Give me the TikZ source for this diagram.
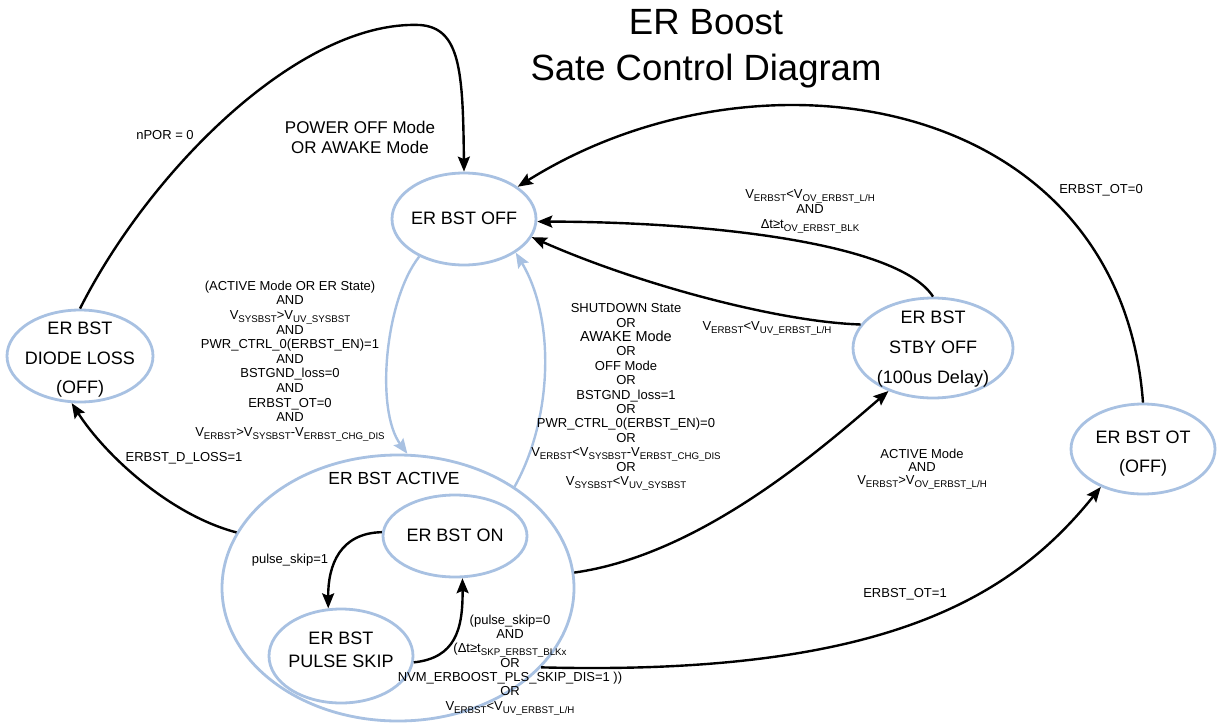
\documentclass[tikz,border=0pt]{standalone}
\usepackage{fontspec}
\setmainfont{Liberation Sans}
\usetikzlibrary{shapes.geometric,arrows.meta}
\definecolor{stateblue}{RGB}{168,193,226}
% lowered, smaller text for signal subscripts
\newcommand\dn[1]{\raisebox{-3pt}{\fontsize{9.7}{9.7}\selectfont #1}}

\begin{document}
\begin{tikzpicture}[x=1pt,y=-1pt,
  state/.style={ellipse, draw=stateblue, line width=2.8pt, inner sep=0pt},
  stxt/.style={align=center, inner sep=0pt, font=\fontsize{18}{29.5}\selectfont},
  cond/.style={align=center, inner sep=0pt, font=\fontsize{13}{14.6}\selectfont},
  tip/.style={-{Stealth[length=15pt,width=12pt,inset=2.5pt]}},
  edge/.style={tip, line width=2.4pt, draw=black},
  bedge/.style={tip, line width=2.4pt, draw=stateblue},
]
\fill[white] (0,0) rectangle (1222,725);
\useasboundingbox (0,0) rectangle (1222,725);

% title
\node[align=center, inner sep=0pt, font=\fontsize{36.5}{46}\selectfont] (title) at (706,49)
  {ER Boost\\Sate Control Diagram};

% states
\node[state, minimum width=144pt, minimum height=92pt]  (off)    at (464,219) {};
\node[state, minimum width=146pt, minimum height=92pt]  (diode)  at (80,356)  {};
\node[state, minimum width=352pt, minimum height=266pt] (active) at (398,588) {};
\node[state, minimum width=144pt, minimum height=82pt]  (on)     at (455,536) {};
\node[state, minimum width=144pt, minimum height=94pt]  (ps)     at (341,656) {};
\node[state, minimum width=160pt, minimum height=100pt] (stby)   at (933,348) {};
\node[state, minimum width=144pt, minimum height=90pt]  (ot)     at (1143,449) {};

% state names
\node[stxt] (offT) at (464,218) {ER BST OFF};
\node[stxt] (diodeT) at (80,360) {ER BST\\DIODE LOSS\\(OFF)};
\node[stxt, font=\fontsize{17.5}{20}\selectfont] (activeT) at (394,478) {ER BST ACTIVE};
\node[stxt] (onT) at (455,535) {ER BST ON};
\node[stxt, font=\fontsize{18}{22.5}\selectfont] (psT) at (341,650) {ER BST\\PULSE SKIP};
\node[stxt, font=\fontsize{18}{30}\selectfont] (stbyT) at (933,349) {ER BST\\STBY OFF\\(100us Delay)};
\node[stxt, font=\fontsize{18}{29}\selectfont] (otT) at (1143,454) {ER BST OT\\(OFF)};

% transitions
\draw[edge] (diode.north) .. controls (150,170) and (300,20) .. (420,25)
  .. controls (460,28) and (463,70) .. (off.north);
\draw[bedge] (off.220) .. controls (385,300) and (375,410) .. (active.86);
\draw[bedge] (active.41) .. controls (552,420) and (556,320) .. (off.-33);
\draw[edge] (stby.north) .. controls (900,245) and (720,222) .. (off.-2);
\draw[edge] (stby.162) .. controls (780,322) and (640,285) .. (off.-15);
\draw[edge] (ot.north) .. controls (1120,95) and (760,35) .. (off.31);
\draw[edge] (active.5) .. controls (700,555) and (820,450) .. (stby.224);
\draw[edge] (active.-29) .. controls (880,676) and (1010,600) .. (ot.222);
\draw[edge] (active.161) .. controls (170,515) and (105,455) .. (diode.-100);
\draw[edge] (on.177) .. controls (340,533) and (328,565) .. (ps.105);
\draw[edge] (ps.-5) .. controls (455,658) and (463,630) .. (on.-80);

% transition conditions
\node[cond] (lNpor) at (165,135) {nPOR = 0};
\node[cond, font=\fontsize{17}{20}\selectfont] (lPwr) at (360,137) {POWER OFF Mode\\OR AWAKE Mode};
\node[cond] (lOn) at (290,361) {(ACTIVE Mode OR ER State)\\AND\\
  V\dn{SYSBST}>V\dn{UV\_SYSBST}\\AND\\PWR\_CTRL\_0(ERBST\_EN)=1\\AND\\
  BSTGND\_loss=0\\AND\\ERBST\_OT=0\\AND\\V\dn{ERBST}>V\dn{SYSBST}-V\dn{ERBST\_CHG\_DIS}};
\node[cond, font=\fontsize{13}{14.4}\selectfont] (lOff) at (626,397) {SHUTDOWN State\\OR\\
  {\fontsize{14.5}{14.4}\selectfont AWAKE Mode}\\OR\\OFF Mode\\OR\\BSTGND\_loss=1\\OR\\
  PWR\_CTRL\_0(ERBST\_EN)=0\\OR\\V\dn{ERBST}<V\dn{SYSBST}-V\dn{ERBST\_CHG\_DIS}\\OR\\
  V\dn{SYSBST}<V\dn{UV\_SYSBST}};
\node[cond, font=\fontsize{13}{15}\selectfont] (lOv) at (810,211)
  {V\dn{ERBST}<V\dn{OV\_ERBST\_L/H}\\AND\\Δt≥t\dn{OV\_ERBST\_BLK}};
\node[cond] (lUv) at (767,328) {V\dn{ERBST}<V\dn{UV\_ERBST\_L/H}};
\node[cond] (lOt0) at (1101,190) {ERBST\_OT=0};
\node[cond, font=\fontsize{13}{12.8}\selectfont] (lStby) at (922,469)
  {ACTIVE Mode\\AND\\V\dn{ERBST}>V\dn{OV\_ERBST\_L/H}};
\node[cond] (lOt1) at (905,594) {ERBST\_OT=1};
\node[cond] (lDl) at (184,458) {ERBST\_D\_LOSS=1};
\node[cond] (lPs1) at (290,560) {pulse\_skip=1};
\node[cond, font=\fontsize{13}{14.3}\selectfont] (lPs0) at (510,665)
  {(pulse\_skip=0\\AND\\(Δt≥t\dn{SKP\_ERBST\_BLKx}\\OR\\
  NVM\_ERBOOST\_PLS\_SKIP\_DIS=1 ))\\OR\\V\dn{ERBST}<V\dn{UV\_ERBST\_L/H}};
\end{tikzpicture}
\end{document}
